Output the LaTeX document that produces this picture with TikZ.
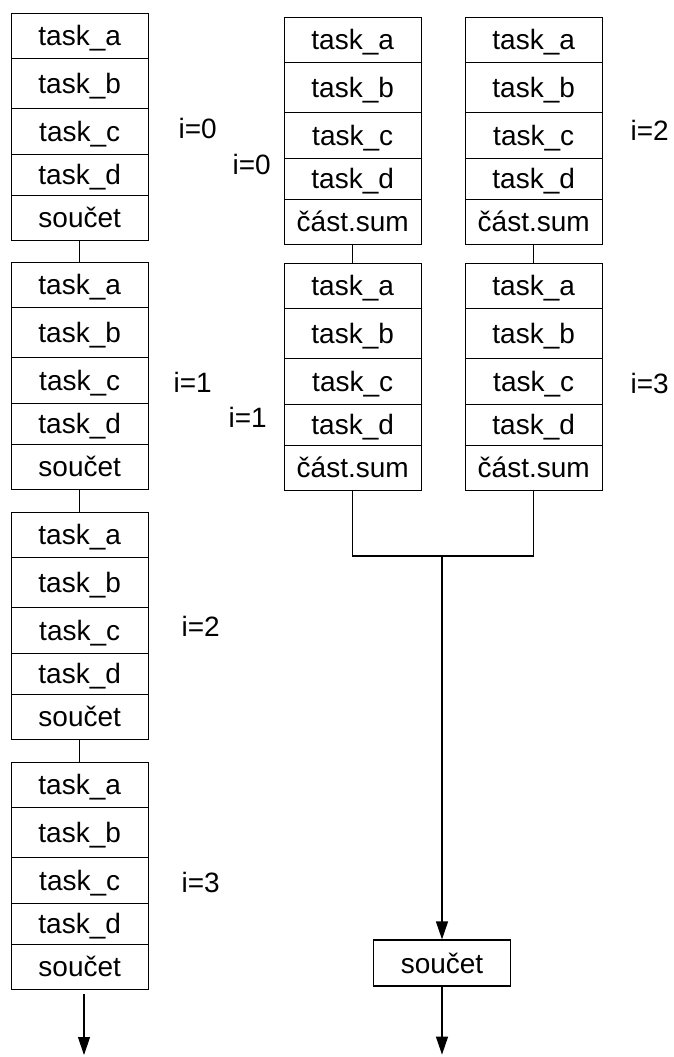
\documentclass[tikz,border=0pt]{standalone}
\usepackage{fontspec}
\setmainfont{Liberation Sans}
\usetikzlibrary{matrix, arrows.meta}

\tikzset{
  stack/.style={matrix of nodes,
         nodes={rectangle, draw,
                minimum width=137pt, text height=20pt, text depth=0pt,
                inner sep=0pt, outer sep=0pt,
                anchor=center},
         row sep=-\pgflinewidth,
         inner sep=0pt,
         anchor=north west,
         row 1/.style={nodes={minimum height=45pt}},
         row 2/.style={nodes={minimum height=50pt}},
         row 3/.style={nodes={minimum height=46pt}},
         row 4/.style={nodes={minimum height=41pt}},
         row 5/.style={nodes={minimum height=45pt}},
         },
  lbl/.style={anchor=west, inner sep=0pt},
  arr/.style={-{Triangle[length=18pt, width=12pt]}},
}

\begin{document}
\begin{tikzpicture}[x=1pt, y=-1pt, line width=1.2pt,
                    font=\fontsize{28}{30}\selectfont]
\useasboundingbox (0,0) rectangle (673,1057);
% sequential loop, left
\foreach \n/\y in {1/12, 2/261, 3/511, 4/761}
{
\matrix [stack] (s\n) at (10,\y)
{
task\_a \\
task\_b \\
task\_c \\
task\_d \\
součet  \\
};
}
\foreach \a/\b in {1/2, 2/3, 3/4}
    \draw (s\a-5-1.south) -- (s\b-1-1.north);
\node[lbl] (ls1) at (178,128) {i=0};
\node[lbl] (ls2) at (173,382) {i=1};
\node[lbl] (ls3) at (181,626) {i=2};
\node[lbl] (ls4) at (181,882) {i=3};
\coordinate (outL) at (84,1055);
\draw[arr] ([yshift=-5pt]outL |- s4-5-1.south) -- (outL);
% parallel threads, right
\foreach \c/\x in {a/283, b/464}
{
\foreach \n/\y in {1/16, 2/262}
{
\matrix [stack] (\c\n) at (\x,\y)
{
task\_a \\
task\_b \\
task\_c \\
task\_d \\
část.sum \\
};
}
\draw (\c1-5-1.south) -- (\c2-1-1.north);
}
\node[lbl] (la1) at (232,164) {i=0};
\node[lbl] (la2) at (228,417) {i=1};
\node[lbl] (lb1) at (630,130) {i=2};
\node[lbl] (lb2) at (630,383) {i=3};
% reduction
\coordinate (join) at (442,556);
\node[draw, minimum width=137pt, minimum height=46pt,
      text height=20pt, text depth=0pt, inner sep=0pt] (sum) at (442,963) {součet};
\draw (a2-5-1.south) |- (join) -| (b2-5-1.south);
\draw[arr] (join) -- (sum.north);
\draw[arr] (sum.south) -- ++(0,68);
\end{tikzpicture}
\end{document}
